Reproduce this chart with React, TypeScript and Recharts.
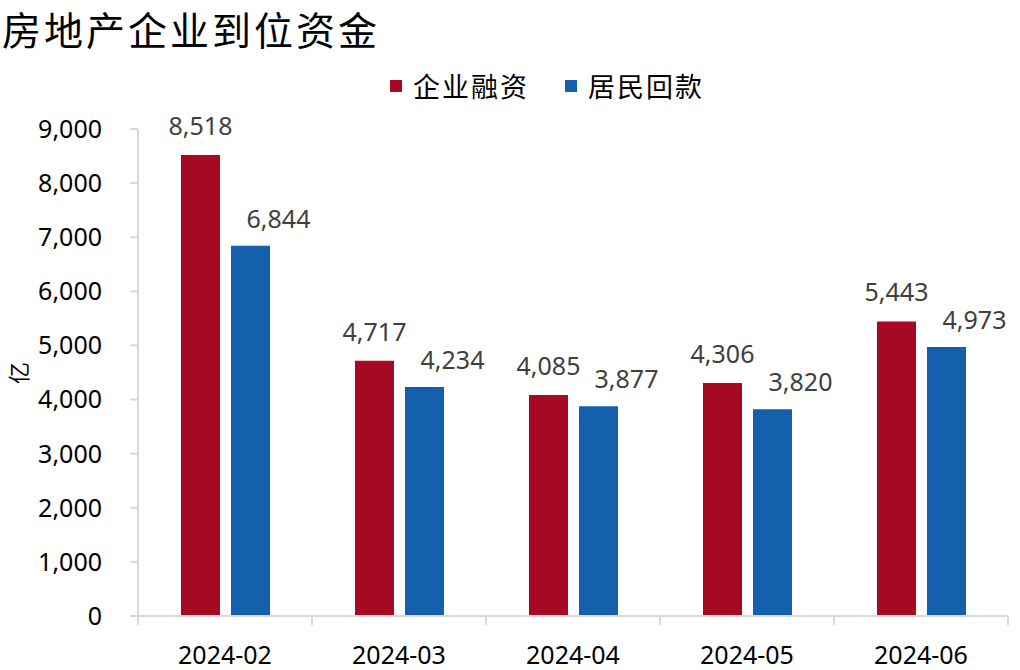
import { BarChart, Bar, XAxis, YAxis, LabelList } from "recharts";

const months = ["2024-02", "2024-03", "2024-04", "2024-05", "2024-06"];
const corpFinance = [8518, 4717, 4085, 4306, 5443];
const homeBuyerFunds = [6844, 4234, 3877, 3820, 4973];
const yTicks = [0, 1000, 2000, 3000, 4000, 5000, 6000, 7000, 8000, 9000];

const RED = "#A50A22";
const BLUE = "#1560AC";
const AXIS = "#d9d9d9";
const NUM_FONT = "'Noto Sans', 'Open Sans', sans-serif";
const CJK_FONT = "'Noto Sans CJK SC', sans-serif";
const X_LABEL_GAP = 30;

const data = months.map((m, i) => ({
    month: m,
    corp: corpFinance[i],
    home: homeBuyerFunds[i],
}));

const fmt = (v: number) => v.toLocaleString("en-US");

// labels sit above the bar; blue ones are nudged to the right like the source
const makeLabel = (dx: number, lift: number) => (props: any) => {
    const { x, y, width, value } = props;
    return (
        <text
            x={Number(x) + Number(width) / 2 + dx}
            y={Number(y) - lift}
            textAnchor="middle"
            fontSize={25}
            fontFamily={NUM_FONT}
            fill="#404040"
        >
            {fmt(Number(value))}
        </text>
    );
};

// category label plus the small tick marks between categories
const MonthTick = (props: any) => {
    const { x, y, payload, index, width } = props;
    const band = Number(width) / months.length;
    const axisY = Number(y) - X_LABEL_GAP;
    const left = Number(x) - band / 2;
    return (
        <g>
            <line x1={left} x2={left} y1={axisY} y2={axisY + 9} stroke={AXIS} strokeWidth={2} />
            {index === months.length - 1 && (
                <line x1={left + band} x2={left + band} y1={axisY} y2={axisY + 9} stroke={AXIS} strokeWidth={2} />
            )}
            <text x={x} y={y} dy="0.71em" textAnchor="middle" fontSize={25} fontFamily={NUM_FONT} fill="#000">
                {payload.value}
            </text>
        </g>
    );
};

export default function App() {
    return (
        <div style={{ position: "absolute", left: 0, top: 0, width: 1020, height: 670, background: "#fff" }}>
            <div
                style={{
                    position: "absolute",
                    left: 2,
                    top: 9,
                    fontSize: 39,
                    lineHeight: "39px",
                    letterSpacing: 3,
                    fontFamily: CJK_FONT,
                    color: "#000",
                    whiteSpace: "nowrap",
                }}
            >
                房地产企业到位资金
            </div>

            <div
                style={{
                    position: "absolute",
                    left: 390,
                    top: 66,
                    display: "flex",
                    alignItems: "center",
                    fontFamily: CJK_FONT,
                    fontSize: 27,
                    letterSpacing: 2,
                    color: "#000",
                    whiteSpace: "nowrap",
                }}
            >
                <span style={{ width: 12, height: 12, background: RED, display: "inline-block", marginRight: 11 }} />
                <span style={{ marginRight: 36 }}>企业融资</span>
                <span style={{ width: 12, height: 12, background: BLUE, display: "inline-block", marginRight: 11 }} />
                <span>居民回款</span>
            </div>

            <div
                style={{
                    position: "absolute",
                    left: 4,
                    top: 360,
                    width: 26,
                    height: 26,
                    lineHeight: "26px",
                    textAlign: "center",
                    fontFamily: CJK_FONT,
                    fontSize: 22,
                    transform: "rotate(-90deg)",
                }}
            >
                亿
            </div>

            <BarChart
                width={1020}
                height={670}
                data={data}
                margin={{ top: 129, right: 12, left: 0, bottom: 0 }}
                barSize={39}
                barGap={11}
                style={{ position: "absolute", left: 0, top: 0 }}
            >
                <XAxis
                    dataKey="month"
                    height={54}
                    axisLine={{ stroke: AXIS, strokeWidth: 2 }}
                    tickLine={false}
                    tickSize={0}
                    tickMargin={X_LABEL_GAP}
                    interval={0}
                    tick={<MonthTick />}
                />
                <YAxis
                    width={138}
                    domain={[0, 9000]}
                    ticks={yTicks}
                    interval={0}
                    tickFormatter={fmt}
                    axisLine={{ stroke: AXIS, strokeWidth: 2 }}
                    tickLine={{ stroke: AXIS, strokeWidth: 2 }}
                    tickSize={8}
                    tickMargin={28}
                    tick={{ fontSize: 25, fontFamily: NUM_FONT, fill: "#000" }}
                />
                <Bar dataKey="corp" name="企业融资" fill={RED} isAnimationActive={false}>
                    <LabelList dataKey="corp" content={makeLabel(0, 20)} />
                </Bar>
                <Bar dataKey="home" name="居民回款" fill={BLUE} isAnimationActive={false}>
                    <LabelList dataKey="home" content={makeLabel(28, 18)} />
                </Bar>
            </BarChart>
        </div>
    );
}
